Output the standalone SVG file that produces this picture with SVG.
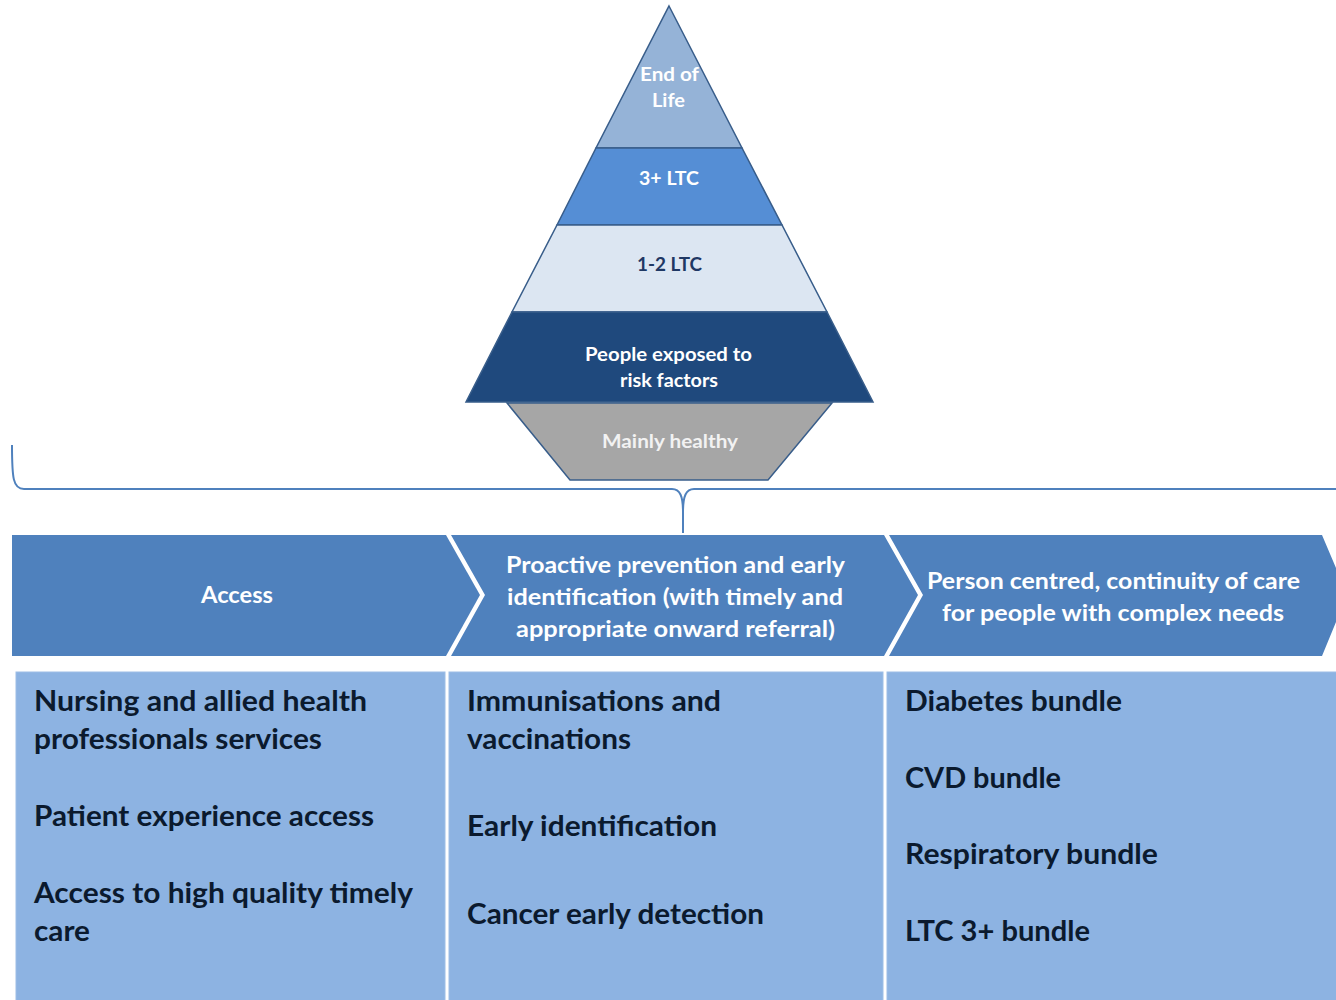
<svg xmlns="http://www.w3.org/2000/svg" width="1336" height="1000" viewBox="0 0 1336 1000">
  <style>
    .layer { stroke: #385D8A; stroke-width: 1.5; stroke-linejoin: miter; }
    .ptxt { font-family: Lato, "Liberation Sans", sans-serif; font-weight: bold; font-size: 19px; text-anchor: middle; fill: #FFFFFF; }
    .hdr { fill: #4F81BD; }
    .htxt { font-family: Lato, "Liberation Sans", sans-serif; font-weight: bold; font-size: 22px; fill: #FFFFFF; }
    .cell { fill: #8DB3E2; stroke: #9DBEE6; stroke-width: 1; }
    .ctxt { font-family: Lato, "Liberation Sans", sans-serif; font-weight: bold; font-size: 28px; fill: #0B1A2E; }
    .brace { fill: none; stroke: #4F81BD; stroke-width: 2; }
  </style>

  <rect width="1336" height="1000" fill="#FFFFFF"/>

  <!-- Population pyramid -->
  <g id="pyramid-end-of-life">
    <polygon class="layer" points="669,6 742,148 596,148" fill="#95B3D7"/>
    <text class="ptxt" x="669.5" y="81" textLength="59" lengthAdjust="spacingAndGlyphs">End of</text>
    <text class="ptxt" x="668.5" y="107" textLength="33" lengthAdjust="spacingAndGlyphs">Life</text>
  </g>
  <g id="pyramid-3plus-ltc">
    <polygon class="layer" points="596,148 742,148 782,225 557,225" fill="#558ED5"/>
    <text class="ptxt" x="669" y="185" textLength="60" lengthAdjust="spacingAndGlyphs">3+ LTC</text>
  </g>
  <g id="pyramid-1-2-ltc">
    <polygon class="layer" points="557,225 782,225 827,312 512,312" fill="#DCE6F2"/>
    <text class="ptxt" x="669.5" y="271" textLength="65" lengthAdjust="spacingAndGlyphs" style="fill:#1F3864">1-2 LTC</text>
  </g>
  <g id="pyramid-risk-factors">
    <polygon class="layer" points="512,312 827,312 873,402 466,402" fill="#1F497D"/>
    <text class="ptxt" x="668.5" y="361" textLength="167" lengthAdjust="spacingAndGlyphs">People exposed to</text>
    <text class="ptxt" x="669" y="387" textLength="98" lengthAdjust="spacingAndGlyphs">risk factors</text>
  </g>
  <g id="pyramid-mainly-healthy">
    <polygon class="layer" points="507,403 832,403 768,480 570,480" fill="#A6A6A6"/>
    <text class="ptxt" x="670" y="448" textLength="136" lengthAdjust="spacingAndGlyphs" style="fill:#F2F2F2">Mainly healthy</text>
  </g>

  <!-- Brace linking the pyramid to the columns -->
  <g id="connectors">
    <path class="brace" d="M12,445 C12,478 13,489 24,489 L672,489 C680,489 683,496 683,512 L683,533"/>
    <path class="brace" d="M683,512 C683,496 686,489 694,489 L1336,489"/>
  </g>

  <!-- Column headers (chevrons) -->
  <g id="header-access">
    <polygon class="hdr" points="12,535 446,535 480,595 446,656 12,656"/>
    <text class="htxt" x="237" y="603" text-anchor="middle" textLength="72" lengthAdjust="spacingAndGlyphs">Access</text>
  </g>
  <g id="header-prevention">
    <polygon class="hdr" points="451,535 884,535 918,595 884,656 451,656 485,595"/>
    <text class="htxt" x="675.5" y="573" text-anchor="middle" textLength="339" lengthAdjust="spacingAndGlyphs">Proactive prevention and early</text>
    <text class="htxt" x="675" y="605" text-anchor="middle" textLength="336" lengthAdjust="spacingAndGlyphs">identification (with timely and</text>
    <text class="htxt" x="675.5" y="637" text-anchor="middle" textLength="319" lengthAdjust="spacingAndGlyphs">appropriate onward referral)</text>
  </g>
  <g id="header-person-centred">
    <polygon class="hdr" points="889,535 1322,535 1336,568 1336,622 1322,656 889,656 923,595"/>
    <text class="htxt" x="1113.5" y="589" text-anchor="middle" textLength="373" lengthAdjust="spacingAndGlyphs">Person centred, continuity of care</text>
    <text class="htxt" x="1113" y="621" text-anchor="middle" textLength="342" lengthAdjust="spacingAndGlyphs">for people with complex needs</text>
  </g>

  <!-- Column contents -->
  <g id="column-access">
    <rect class="cell" x="16" y="672" width="429" height="330"/>
    <text class="ctxt" x="34" y="711" textLength="333" lengthAdjust="spacingAndGlyphs">Nursing and allied health</text>
    <text class="ctxt" x="34" y="749" textLength="288" lengthAdjust="spacingAndGlyphs">professionals services</text>
    <text class="ctxt" x="34" y="826" textLength="340" lengthAdjust="spacingAndGlyphs">Patient experience access</text>
    <text class="ctxt" x="34" y="903" textLength="379" lengthAdjust="spacingAndGlyphs">Access to high quality timely</text>
    <text class="ctxt" x="34" y="941" textLength="56" lengthAdjust="spacingAndGlyphs">care</text>
  </g>
  <g id="column-prevention">
    <rect class="cell" x="449" y="672" width="434" height="330"/>
    <text class="ctxt" x="467" y="711" textLength="254" lengthAdjust="spacingAndGlyphs">Immunisations and</text>
    <text class="ctxt" x="467" y="749" textLength="164" lengthAdjust="spacingAndGlyphs">vaccinations</text>
    <text class="ctxt" x="467" y="836" textLength="250" lengthAdjust="spacingAndGlyphs">Early identification</text>
    <text class="ctxt" x="467" y="924" textLength="297" lengthAdjust="spacingAndGlyphs">Cancer early detection</text>
  </g>
  <g id="column-person-centred">
    <rect class="cell" x="887" y="672" width="452" height="330"/>
    <text class="ctxt" x="905" y="711" textLength="217" lengthAdjust="spacingAndGlyphs">Diabetes bundle</text>
    <text class="ctxt" x="905" y="788" textLength="156" lengthAdjust="spacingAndGlyphs">CVD bundle</text>
    <text class="ctxt" x="905" y="864" textLength="253" lengthAdjust="spacingAndGlyphs">Respiratory bundle</text>
    <text class="ctxt" x="905" y="941" textLength="185" lengthAdjust="spacingAndGlyphs">LTC 3+ bundle</text>
  </g>
</svg>
